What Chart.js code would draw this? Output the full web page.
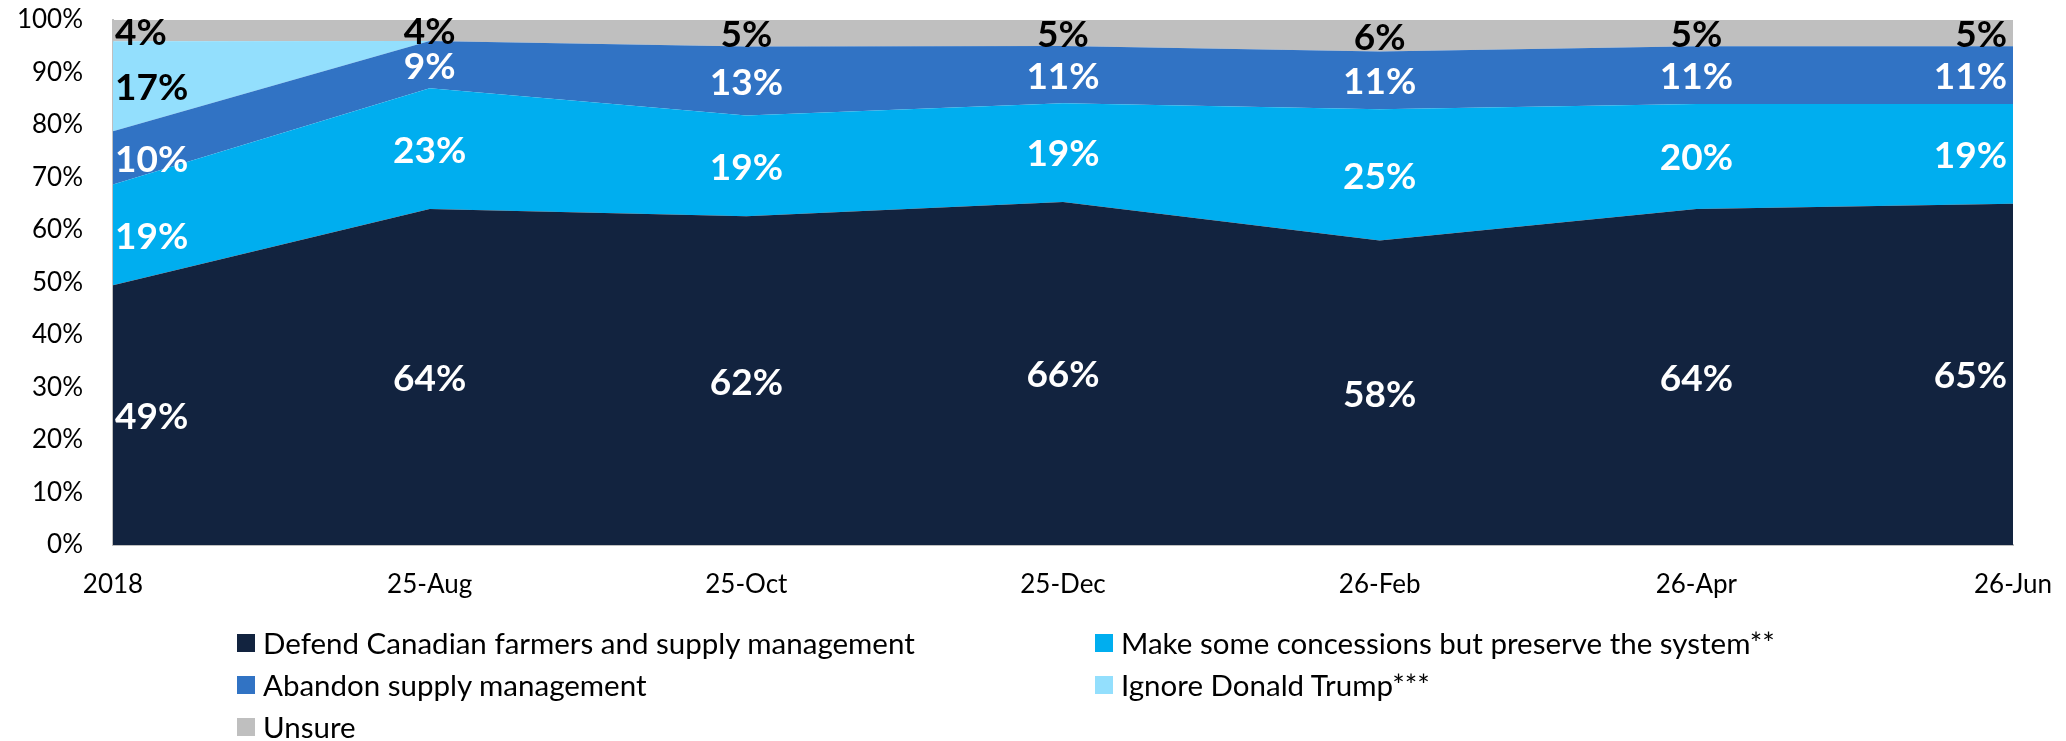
<!DOCTYPE html>
<html>
<head>
<meta charset="utf-8">
<script src="https://cdn.jsdelivr.net/npm/chart.js@4/dist/chart.umd.min.js"></script>
<style>
  html, body { margin: 0; padding: 0; background: #ffffff; }
  #wrap { position: relative; width: 2066px; height: 741px; }
  #chart { position: absolute; left: 0; top: 0; }
  .lg { position: absolute; font-family: Lato, "Open Sans", sans-serif; font-size: 29.5px; color: #000; white-space: nowrap; line-height: 30px; }
  .lg .box { position: absolute; left: 0; top: 6px; width: 18px; height: 18px; }
  .lg .txt { position: absolute; left: 26px; top: 0; }
</style>
</head>
<body>
<div id="wrap">
  <canvas id="chart" width="2066" height="741"></canvas>
  <div id="legend"></div>
</div>
<script>
const categories = ["2018", "25-Aug", "25-Oct", "25-Dec", "26-Feb", "26-Apr", "26-Jun"];
const defendValues = [49, 64, 62, 66, 58, 64, 65];
const concessionsValues = [19, 23, 19, 19, 25, 20, 19];
const abandonValues = [10, 9, 13, 11, 11, 11, 11];
const ignoreTrumpValues = [17, 0, 0, 0, 0, 0, 0];
const unsureValues = [4, 4, 5, 5, 6, 5, 5];
const yTickValues = [0, 10, 20, 30, 40, 50, 60, 70, 80, 90, 100];

const seriesNames = [
  "Defend Canadian farmers and supply management",
  "Make some concessions but preserve the system**",
  "Abandon supply management",
  "Ignore Donald Trump***",
  "Unsure"
];
const seriesColors = ["#12233F", "#00AEEF", "#3173C4", "#93DFFD", "#BFBFBF"];
const labelColors = ["#FFFFFF", "#FFFFFF", "#FFFFFF", "#000000", "#000000"];
const rawSeries = [defendValues, concessionsValues, abandonValues, ignoreTrumpValues, unsureValues];

// 100% stacked: each category's values shown as share of its total
const totals = categories.map((_, j) => rawSeries.reduce((s, arr) => s + arr[j], 0));
const shareSeries = rawSeries.map(arr => arr.map((v, j) => v / totals[j] * 100));

const datasets = rawSeries.map((arr, i) => ({
  label: seriesNames[i],
  data: shareSeries[i],
  backgroundColor: seriesColors[i],
  borderColor: seriesColors[i],
  borderWidth: 0,
  pointRadius: 0,
  pointHoverRadius: 0,
  tension: 0,
  fill: i === 0 ? 'origin' : '-1'
}));

const labelPlugin = {
  id: 'areaLabels',
  afterDatasetsDraw(chart) {
    const ctx = chart.ctx;
    const yScale = chart.scales.y;
    ctx.save();
    ctx.font = "bold 37px Lato, 'Open Sans', sans-serif";
    ctx.textBaseline = 'middle';
    const n = categories.length;
    rawSeries.forEach((arr, i) => {
      const meta = chart.getDatasetMeta(i);
      const prev = i > 0 ? chart.getDatasetMeta(i - 1) : null;
      arr.forEach((v, j) => {
        if (!v) return;
        const pt = meta.data[j];
        const base = prev ? prev.data[j].y : yScale.getPixelForValue(0);
        const y = (pt.y + base) / 2;
        let x = pt.x;
        if (j === 0) { ctx.textAlign = 'left'; x += 2; }
        else if (j === n - 1) { ctx.textAlign = 'right'; x -= 6; }
        else { ctx.textAlign = 'center'; }
        ctx.fillStyle = labelColors[i];
        ctx.fillText(v + '%', x, y + 2);
      });
    });
    ctx.restore();
  }
};

new Chart(document.getElementById('chart'), {
  type: 'line',
  data: { labels: categories, datasets },
  options: {
    responsive: false,
    animation: false,
    events: [],
    layout: { padding: { left: 0, right: 53, top: 20, bottom: 136 } },
    plugins: { legend: { display: false }, tooltip: { enabled: false } },
    scales: {
      x: {
        type: 'category',
        offset: false,
        grid: { display: false, drawTicks: false },
        border: { display: true, color: '#BFBFBF', width: 2 },
        ticks: { color: '#000', font: { family: "Lato, 'Open Sans', sans-serif", size: 26 }, padding: 24, maxRotation: 0, autoSkip: false },
        afterFit(scale) { scale.height = 60; scale.paddingLeft = 0; scale.paddingRight = 0; }
      },
      y: {
        stacked: true,
        min: 0,
        max: 100,
        afterBuildTicks(scale) { scale.ticks = yTickValues.map(v => ({ value: v })); },
        grid: { display: false, drawTicks: false },
        border: { display: true, color: '#BFBFBF', width: 2 },
        ticks: { color: '#000', font: { family: "Lato, 'Open Sans', sans-serif", size: 26 }, padding: 30, callback: v => v + '%' },
        afterFit(scale) { scale.width = 113; scale.paddingTop = 0; scale.paddingBottom = 0; }
      }
    }
  },
  plugins: [labelPlugin]
});

// legend (two columns, as in the reference)
const legendPos = [
  { left: 237, top: 628 },
  { left: 1095, top: 628 },
  { left: 237, top: 670 },
  { left: 1095, top: 670 },
  { left: 237, top: 712 }
];
const lg = document.getElementById('legend');
seriesNames.forEach((name, i) => {
  const d = document.createElement('div');
  d.className = 'lg';
  d.style.left = legendPos[i].left + 'px';
  d.style.top = legendPos[i].top + 'px';
  const b = document.createElement('span');
  b.className = 'box';
  b.style.background = seriesColors[i];
  const t = document.createElement('span');
  t.className = 'txt';
  t.textContent = name;
  d.appendChild(b); d.appendChild(t);
  lg.appendChild(d);
});
</script>
</body>
</html>
